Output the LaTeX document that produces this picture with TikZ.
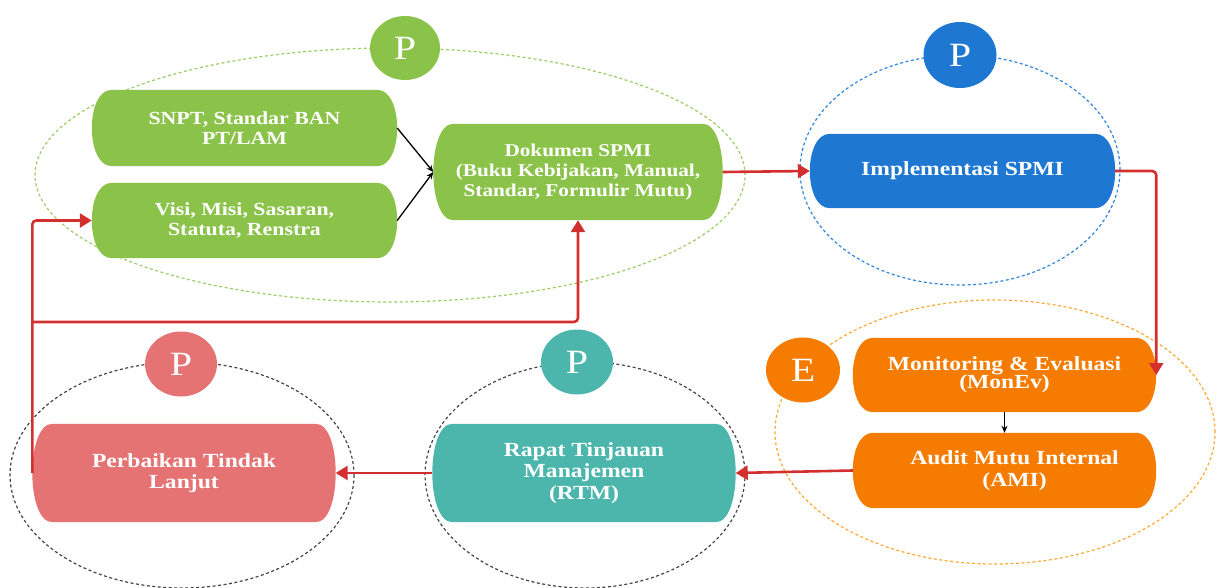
\documentclass[tikz,border=0pt]{standalone}
\usepackage{fontspec}
\setmainfont{Liberation Serif}
\newfontfamily\fS[FakeStretch=1.18]{Liberation Serif}
\usetikzlibrary{shapes.geometric,arrows.meta,calc}
\pgfdeclarelayer{ellayer}
\pgfdeclarelayer{boxlayer}
\pgfsetlayers{ellayer,boxlayer,main}
\definecolor{cgreen}{HTML}{8BC34A}
\definecolor{cblue}{HTML}{1E78D2}
\definecolor{corange}{HTML}{F57C00}
\definecolor{cpink}{HTML}{E57373}
\definecolor{cteal}{HTML}{4DB6AC}
\definecolor{cred}{HTML}{D32F2F}
\definecolor{dgreen}{HTML}{9CCC65}
\definecolor{dblue}{HTML}{2F86DE}
\definecolor{dorange}{HTML}{FFA733}
\definecolor{dgray}{HTML}{444444}
\tikzset{
  box/.style={rectangle, inner sep=0pt, text=white, align=center},
  gtext/.style={font={\fS\bfseries\fontsize{18.5}{19.5}\selectfont}},
  dtext/.style={font={\fS\bfseries\fontsize{18}{20}\selectfont}},
  otext/.style={font={\fS\bfseries\fontsize{20}{#1}\selectfont}},
  grp/.style={ellipse, draw, dash pattern=on 3pt off 2.5pt, line width=1.2pt, inner sep=0pt},
  badge/.style={ellipse, inner sep=0pt, text=white, font={\fS\fontsize{34}{34}\selectfont}},
  redarrow/.style={draw=cred, line width=2.6pt, rounded corners=4pt,
    -{Triangle[length=12pt,width=14pt]}},
  blkarrow/.style={draw=black, line width=1.3pt, -{Stealth[length=7pt,width=6pt]}}
}
% filled box with bulging ends: node name, colour, end width
\newcommand\boxfill[3]{%
  \begin{pgfonlayer}{boxlayer}
  \fill[#2] ($(#1.north west)+(#3,0)$) -- ($(#1.north east)+(-#3,0)$)
    .. controls ($(#1.north east)+(#3/3,0)$) and ($(#1.south east)+(#3/3,0)$) .. ($(#1.south east)+(-#3,0)$)
    -- ($(#1.south west)+(#3,0)$)
    .. controls ($(#1.south west)+(-#3/3,0)$) and ($(#1.north west)+(-#3/3,0)$) .. cycle;
  \end{pgfonlayer}}
\begin{document}
\begin{tikzpicture}[x=1pt,y=-1pt]
\useasboundingbox (0,0) rectangle (1217,588);
% group ellipses
\begin{pgfonlayer}{ellayer}
\node[grp, draw=dgreen, minimum width=710pt, minimum height=254pt] (gG) at (390,175) {};
\node[grp, draw=dblue, minimum width=320pt, minimum height=230pt] (gB) at (960,170) {};
\node[grp, draw=dorange, minimum width=440pt, minimum height=264pt] (gO) at (995,432) {};
\node[grp, draw=dgray, minimum width=344pt, minimum height=226pt] (gL) at (182,475) {};
\node[grp, draw=dgray, minimum width=320pt, minimum height=226pt] (gR) at (585,475) {};
\end{pgfonlayer}
% badges
\node[badge, fill=cgreen, minimum width=70pt, minimum height=64pt] (pG) at (405,48) {P};
\node[badge, fill=cblue, minimum width=73pt, minimum height=66pt] (pB) at (960,55) {P};
\node[badge, fill=corange, minimum width=74pt, minimum height=65pt] (pE) at (803,370) {E};
\node[badge, fill=cpink, minimum width=72pt, minimum height=65pt] (pL) at (181,364) {P};
\node[badge, fill=cteal, minimum width=72pt, minimum height=65pt] (pR) at (577,362) {P};
% boxes
\node[box, gtext, minimum width=305pt, minimum height=76pt] (snpt) at (244.5,128)
  {SNPT, Standar BAN\\PT/LAM};
\node[box, gtext, minimum width=305pt, minimum height=75pt] (visi) at (244.5,220.5)
  {Visi, Misi, Sasaran,\\Statuta, Renstra};
\node[box, dtext, minimum width=289pt, minimum height=96pt] (dok) at (578,172)
  {Dokumen SPMI\\(Buku Kebijakan, Manual,\\Standar, Formulir Mutu)};
\node[box, otext=22, minimum width=305pt, minimum height=74pt] (impl) at (962.5,171)
  {\raisebox{1pt}{Implementasi SPMI}};
\node[box, minimum width=303pt, minimum height=74pt] (mon) at (1004.5,375)
  {\raisebox{3pt}{\begin{tabular}{@{}c@{}}\fS\bfseries\fontsize{20}{23}\selectfont Monitoring \& Evaluasi\\[0pt]
  \fS\bfseries\fontsize{20}{23}\selectfont (MonEv)\end{tabular}}};
\node[box, otext=22, minimum width=303pt, minimum height=75pt] (ami) at (1004.5,470.5)
  {\hspace*{20pt}Audit Mutu Internal\\\hspace*{20pt}(AMI)};
\node[box, otext=21.5, minimum width=303pt, minimum height=98pt] (rtm) at (584,473)
  {Rapat Tinjauan\\Manajemen\\(RTM)};
\node[box, otext=20.5, minimum width=303pt, minimum height=98pt] (perb) at (184,473)
  {Perbaikan Tindak\\Lanjut};
\boxfill{snpt}{cgreen}{20}
\boxfill{visi}{cgreen}{20}
\boxfill{dok}{cgreen}{20}
\boxfill{impl}{cblue}{20}
\boxfill{mon}{corange}{20}
\boxfill{ami}{corange}{20}
\boxfill{rtm}{cteal}{20}
\boxfill{perb}{cpink}{20}
% black connectors
\draw[blkarrow] (snpt.east) -- (dok.west);
\draw[blkarrow] (visi.east) -- (dok.west);
\draw[blkarrow] (mon.south) -- (ami.north);
% red connectors
\coordinate (br) at (perb.west |- 0,322);
\draw[redarrow] (dok.east) -- (impl.west);
\draw[redarrow] (impl.east) -| (mon.east);
\draw[redarrow] (ami.west) -- (rtm.east);
\draw[redarrow] (rtm.west) -- (perb.east);
\draw[redarrow] (perb.west) |- (visi.west);
\draw[redarrow] (br) -| (dok.south);
\end{tikzpicture}
\end{document}
